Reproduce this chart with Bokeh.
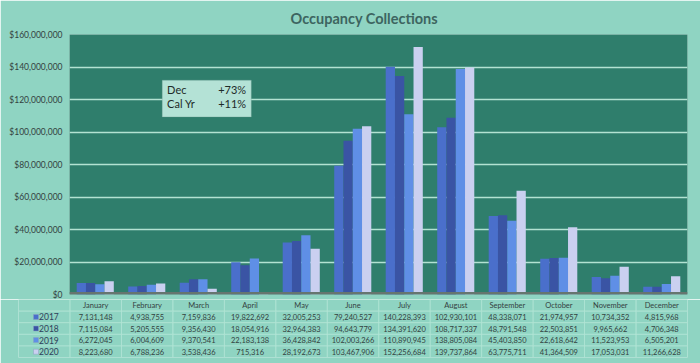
from bokeh.plotting import figure
from bokeh.models import FactorRange, NumeralTickFormatter, ColumnDataSource, Label, BoxAnnotation, FixedTicker
from bokeh.transform import dodge
from bokeh.layouts import column
from bokeh.embed import file_html
from bokeh.resources import INLINE

months = ["January", "February", "March", "April", "May", "June", "July",
          "August", "September", "October", "November", "December"]
years = ["2017", "2018", "2019", "2020"]
v2017 = [7131148, 4938755, 7159836, 19822692, 32005253, 79240527, 140228393,
         102930101, 48338071, 21974957, 10734352, 4815968]
v2018 = [7115084, 5205555, 9356430, 18054916, 32964383, 94643779, 134391620,
         108717337, 48791548, 22503851, 9965662, 4706348]
v2019 = [6272045, 6004609, 9370541, 22183138, 36428842, 102003266, 110890945,
         138805084, 45403850, 22618642, 11523953, 6505201]
v2020 = [8223680, 6788236, 3538436, 715316, 28192673, 103467906, 152256684,
         139737864, 63775711, 41364509, 17053031, 11266628]
series = [v2017, v2018, v2019, v2020]
y_ticks = [0, 20e6, 40e6, 60e6, 80e6, 100e6, 120e6, 140e6, 160e6]
note_rows = [("Dec", "+73%"), ("Cal Yr", "+11%")]

colors = ["#4a6fcb", "#3a54a4", "#5f8fe6", "#cad0f0"]
BG = "#8fd4c2"
PLOT_BG = "#2f7e6c"
FONT = "Lato"
TXT = "#33423f"

src = ColumnDataSource(dict(month=months, y2017=v2017, y2018=v2018, y2019=v2019, y2020=v2020))

p = figure(x_range=FactorRange(*months), y_range=(0, 160e6), width=700, height=299,
           output_backend="svg", toolbar_location=None, frame_align=False,
           min_border_left=69, min_border_right=13, min_border_bottom=5, min_border_top=33,
           background_fill_color=PLOT_BG, border_fill_color=BG, outline_line_color=None)
p.title.text = "Occupancy Collections"
p.title.align = "left"
p.title.offset = 221
p.title.standoff = 15
p.title.text_font = FONT
p.title.text_font_size = "14.5px"
p.title.text_font_style = "bold"
p.title.text_color = "#3d6560"

p.xaxis.visible = False
p.yaxis.ticker = FixedTicker(ticks=y_ticks)
p.yaxis.formatter = NumeralTickFormatter(format="$0,0")
p.yaxis.major_label_text_font = FONT
p.yaxis.major_label_text_font_size = "8.5px"
p.yaxis.major_label_text_color = TXT
p.yaxis.axis_line_color = None
p.yaxis.major_tick_line_color = None
p.yaxis.minor_tick_line_color = None
p.yaxis.major_tick_out = 0
p.yaxis.major_tick_in = 0
p.yaxis.major_label_standoff = 7
p.xgrid.grid_line_color = None
p.ygrid.grid_line_color = "#b3e2d2"
p.ygrid.grid_line_width = 1.5

floor = BoxAnnotation(bottom=0, top=1.5e6, fill_color="#66756f", fill_alpha=1.0, line_color=None)
p.add_layout(floor)

offsets = [-0.27, -0.09, 0.09, 0.27]
for yr, off, c in zip(years, offsets, colors):
    p.vbar(x=dodge("month", off, range=p.x_range), top="y" + yr, width=0.18,
           source=src, fill_color=c, line_color=None)

box = BoxAnnotation(left=1.80, right=3.53, bottom=109.3e6, top=131.9e6,
                    fill_color="#b4e2d6", fill_alpha=1.0, line_color="#6f9c93", line_width=1)
p.add_layout(box)
for (lab, val), yv in zip(note_rows, [126.4e6, 117.3e6]):
    p.add_layout(Label(x=1.895, y=yv, text=lab, text_font=FONT, text_font_size="11px",
                       text_color="#1e2b29", text_baseline="middle", text_align="left"))
    p.add_layout(Label(x=3.43, y=yv, text=val, text_font=FONT, text_font_size="11px",
                       text_color="#1e2b29", text_baseline="middle", text_align="right"))

# data table
rows = ["2020", "2019", "2018", "2017", "hdr"]
cols = ["yr"] + months
t = figure(x_range=FactorRange(*cols), y_range=FactorRange(*rows),
           width=700, height=64, output_backend="svg", toolbar_location=None, frame_align=False,
           min_border_left=18, min_border_right=13, min_border_top=0, min_border_bottom=6,
           background_fill_color=BG, border_fill_color=BG, outline_line_color=None)
t.axis.visible = False
t.grid.visible = False

cx, cy, ct = [], [], []
for yr, vals in zip(years, series):
    for m, v in zip(months, vals):
        cx.append(m); cy.append(yr); ct.append(f"{v:,}")
cells = ColumnDataSource(dict(x=cx, y=cy, t=ct))
allx = [m for m in cols for _ in rows]
ally = [r for _ in cols for r in rows]
t.rect(x=allx, y=ally, width=1, height=1, fill_color=None,
       line_color="#b6e6d8", line_alpha=0.7, line_width=0.8)
t.text(x="x", y="y", text="t", source=cells, text_align="center", text_baseline="middle",
       text_font={"value": FONT}, text_font_size={"value": "7.5px"}, text_color=TXT)
t.text(x=months, y=["hdr"] * 12, text=months, text_align="center", text_baseline="middle",
       text_font={"value": FONT}, text_font_size={"value": "7.5px"}, text_color=TXT)
hdr_src = ColumnDataSource(dict(x=["yr"] * 4, y=years, t=years, c=colors))
t.text(x=dodge("x", -0.1, range=t.x_range), y="y", text="t", source=hdr_src,
       text_align="left", text_baseline="middle",
       text_font={"value": FONT}, text_font_size={"value": "8.5px"}, text_color="#2f3f5a")
t.scatter(x=dodge("x", -0.16, range=t.x_range), y="y", marker="square", size=5,
          source=hdr_src, fill_color="c", line_color="#8aa0c0", line_width=0.5)

layout = column(p, t, spacing=0)
open("out.html", "w").write(file_html(layout, INLINE))
